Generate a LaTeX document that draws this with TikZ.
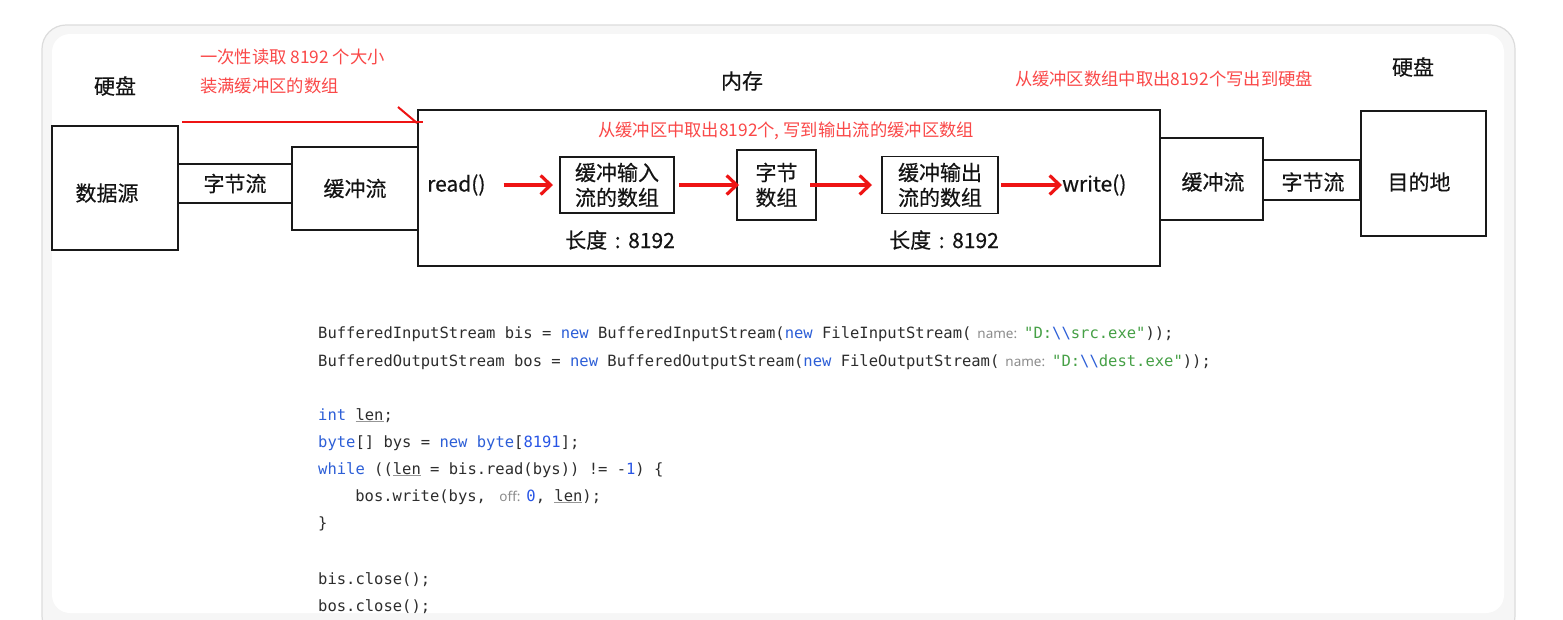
\documentclass[tikz,border=0pt]{standalone}
\usepackage{fontspec}
\setmainfont{Noto Sans CJK SC}[FakeBold=0.4]
\newfontfamily\notecjk{Noto Sans CJK SC}
\newfontfamily\codefont{DejaVu Sans Mono}
\newfontfamily\hintfont{Noto Sans}
\usetikzlibrary{arrows.meta}
\definecolor{redtxt}{RGB}{250,72,72}
\definecolor{redarr}{RGB}{238,20,20}
\definecolor{boxline}{RGB}{25,25,25}
\definecolor{txt}{RGB}{20,20,20}
\definecolor{codetxt}{RGB}{45,45,45}
\definecolor{kwc}{RGB}{45,95,215}
\definecolor{numc}{RGB}{40,85,230}
\definecolor{strc}{RGB}{70,160,70}
\definecolor{hintc}{RGB}{140,140,140}
\definecolor{ulc}{RGB}{150,150,150}
\definecolor{bandc}{RGB}{246,246,246}
\definecolor{framec}{RGB}{220,220,220}
\newcommand\dgfont{\fontsize{21}{25}\selectfont}
\newcommand\notefont{\notecjk\fontsize{17.3}{29}\selectfont}
\newcommand\codesz{\codefont\fontsize{15.5}{18}\selectfont}
\newcommand\chint[1]{{\hintfont\fontsize{13.5}{16}\selectfont\color{hintc}#1}}
\newcommand\ckw[1]{{\color{kwc}#1}}
\newcommand\cnum[1]{{\color{numc}#1}}
\newcommand\cstr[1]{{\color{strc}#1}}
\newcommand\ulen{\rlap{\color{ulc}\underline{\phantom{len}}}len}
\newcommand\bsl{{\color{kwc}\textbackslash\textbackslash}}
\newcommand\lenlabel{长度\makebox[21pt]{:}8192}
\tikzset{
  blk/.style={draw=boxline, line width=1.6pt, inner sep=0pt, outer sep=0pt, font=\dgfont, text=txt, align=center},
  lbl/.style={inner sep=0pt, font=\dgfont, text=txt},
  note/.style={inner sep=0pt, font=\notefont, text=redtxt},
  flow/.style={draw=redarr, line width=3.2pt, -{Straight Barb[length=10pt,width=19pt]}},
  redline/.style={draw=redarr, line width=2pt},
  code/.style={anchor=base west, inner sep=0pt, font=\codesz, text=codetxt},
}
\begin{document}
\begin{tikzpicture}[x=1pt,y=-1pt]
\useasboundingbox (0,0) rectangle (1563,619);
\clip (0,0) rectangle (1563,619);
\fill[white] (0,0) rectangle (1563,619);
% frame
\draw[fill=bandc, draw=framec, line width=1.2pt, rounded corners=24pt] (42,25) rectangle (1515,640);
\fill[white, rounded corners=18pt] (52,34) rectangle (1504,613);

% labels
\node[lbl] (disk1) at (115,86) {硬盘};
\node[lbl] (disk2) at (1413,67) {硬盘};
\node[lbl] (memlbl) at (742,81) {内存};
\node[note, anchor=west, align=left] (note1) at (200,71) {一次性读取 8192 个大小\\装满缓冲区的数组};
\node[note] (note2) at (786,131) {从缓冲区中取出8192个, 写到输出流的缓冲区数组};
\node[note] (note3) at (1164,79) {从缓冲区数组中取出8192个写出到硬盘};

% boxes
\node[blk, minimum width=126pt, minimum height=124pt] (src) at (115,188) {};
\node[lbl] (srct) at (107,193) {数据源};
\node[blk, minimum width=114pt, minimum height=39pt] (bs1) at (235,183.5) {字节流};
\node[blk, minimum width=126pt, minimum height=83pt] (bf1) at (355,188.5) {缓冲流};
\node[blk, minimum width=742pt, minimum height=156pt] (mem) at (789,188) {};
\node[blk, minimum width=114pt, minimum height=56pt] (inbuf) at (617,185) {缓冲输入\\流的数组};
\node[blk, minimum width=79pt, minimum height=70pt] (bytes) at (776.5,185) {字节\\数组};
\node[blk, minimum width=116pt, minimum height=57pt] (outbuf) at (940,185) {缓冲输出\\流的数组};
\node[blk, minimum width=103pt, minimum height=82pt] (bf2) at (1211.5,179) {};
\node[lbl] (bf2t) at (1213,182) {缓冲流};
\node[blk, minimum width=97pt, minimum height=40pt] (bs2) at (1311.5,180) {};
\node[lbl] (bs2t) at (1313,182) {字节流};
\node[blk, minimum width=125pt, minimum height=125pt] (dst) at (1423.5,173.5) {};
\node[lbl] (dstt) at (1419,182) {目的地};

\node[lbl, anchor=west] (readt) at (427,185) {read()};
\node[lbl, anchor=west] (writet) at (1062,185) {write()};
\node[lbl] (len1) at (620,240) {\lenlabel};
\node[lbl] (len2) at (944,240) {\lenlabel};

% arrows
\draw[flow] ([xshift=18pt]readt.east) -- ([xshift=-7pt]inbuf.west);
\draw[flow] ([xshift=5pt]inbuf.east) -- ([xshift=2pt]bytes.west);
\draw[flow] ([xshift=-6pt]bytes.east) -- ([xshift=-10pt]outbuf.west);
\draw[flow] ([xshift=3pt]outbuf.east) -- (writet.west);

% red annotation line
\coordinate (rl1) at (182,122);
\coordinate (rl2) at (423,122);
\coordinate (rs1) at (398,107);
\coordinate (rs2) at (417,123);
\draw[redline] (rl1) -- (rl2);
\draw[redline] (rs1) -- (rs2);

% code
\node[code] (c1) at (318,338) {BufferedInputStream bis = \ckw{new} BufferedInputStream(\ckw{new} FileInputStream(\hspace{6pt}\chint{name:}\hspace{7pt}\cstr{"D:\bsl{}src.exe"}));};
\node[code] (c2) at (318,366) {BufferedOutputStream bos = \ckw{new} BufferedOutputStream(\ckw{new} FileOutputStream(\hspace{6pt}\chint{name:}\hspace{7pt}\cstr{"D:\bsl{}dest.exe"}));};
\node[code] (c3) at (318,420) {\ckw{int} \ulen;};
\node[code] (c4) at (318,447) {\ckw{byte}[] bys = \ckw{new} \ckw{byte}[\cnum{8191}];};
\node[code] (c5) at (318,474) {\ckw{while} ((\ulen{} = bis.read(bys)) != -\cnum{1}) \{};
\node[code] (c6) at (318,501) {\hspace*{37.2pt}bos.write(bys, \hspace{4pt}\chint{off:}\hspace{6pt}\cnum{0}, \ulen);};
\node[code] (c7) at (318,528) {\}};
\node[code] (c8) at (318,584) {bis.close();};
\node[code] (c9) at (318,611) {bos.close();};
\end{tikzpicture}
\end{document}
